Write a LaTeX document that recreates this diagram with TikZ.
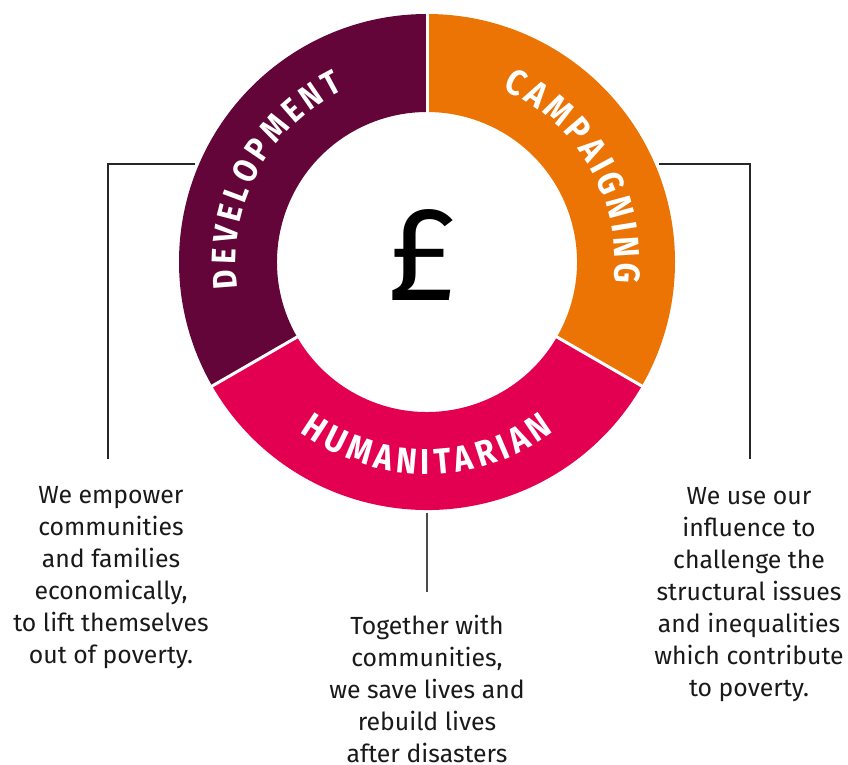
\documentclass[tikz,border=0pt]{standalone}
\usepackage{fontspec}
\setmainfont{Fira Sans}
\newfontfamily\ringfont[FakeStretch=0.87]{Fira Sans}
\usetikzlibrary{decorations.text,calc}
\definecolor{devcol}{HTML}{630538}
\definecolor{camcol}{HTML}{EC7404}
\definecolor{humcol}{HTML}{E40050}
\tikzset{
  blurb/.style={align=center, inner sep=0pt, anchor=north,
    font=\fontsize{24.8}{32}\selectfont, text=black!90},
  leader/.style={draw=black!85, line width=1.1pt},
  divider/.style={draw=white, line width=3pt},
  ringlabel/.style={decorate, decoration={text along path, text align=center,
    text color=white, text={#1}}}
}
\begin{document}
\begin{tikzpicture}[x=1pt,y=1pt]
\useasboundingbox (0,0) rectangle (848,764);
\coordinate (C) at (427,502);
% ring sectors
\fill[devcol] ($(C)+(90:248)$) arc[start angle=90,end angle=210,radius=248pt]
  -- ($(C)+(210:150)$) arc[start angle=210,end angle=90,radius=150pt] -- cycle;
\fill[camcol] ($(C)+(90:248)$) arc[start angle=90,end angle=-30,radius=248pt]
  -- ($(C)+(-30:150)$) arc[start angle=-30,end angle=90,radius=150pt] -- cycle;
\fill[humcol] ($(C)+(210:248)$) arc[start angle=210,end angle=330,radius=248pt]
  -- ($(C)+(330:150)$) arc[start angle=330,end angle=210,radius=150pt] -- cycle;
% white gaps between sectors
\foreach \a in {90,210,330}
  \draw[divider] ($(C)+(\a:146)$) -- ($(C)+(\a:252)$);
% curved sector labels (letter-spaced with explicit kerns)
\path[ringlabel={|\ringfont\bfseries\fontsize{34}{34}\selectfont|{D\kern4.5pt}{E\kern4.5pt}{V\kern4.5pt}{E\kern4.5pt}{L\kern4.5pt}{O\kern4.5pt}{P\kern4.5pt}{M\kern4.5pt}{E\kern4.5pt}{N\kern4.5pt}T}]
  ($(C)+(212:191)$) arc[start angle=212,end angle=92,radius=191pt];
\path[ringlabel={|\ringfont\bfseries\fontsize{36}{36}\selectfont|{C\kern4pt}{A\kern4pt}{M\kern4pt}{P\kern4pt}{A\kern4pt}{I\kern4pt}{G\kern4pt}{N\kern4pt}{I\kern4pt}{N\kern4pt}G}]
  ($(C)+(90:188)$) arc[start angle=90,end angle=-30,radius=188pt];
\path[ringlabel={|\ringfont\bfseries\fontsize{36}{36}\selectfont|{H\kern5pt}{U\kern5pt}{M\kern5pt}{A\kern5pt}{N\kern5pt}{I\kern5pt}{T\kern5pt}{A\kern5pt}{R\kern5pt}{I\kern5pt}{A\kern5pt}N}]
  ($(C)+(210:212)$) arc[start angle=210,end angle=330,radius=212pt];
% centre symbol
\node[font=\fontsize{134}{134}\selectfont, inner sep=0pt] (pound) at (422,509) {£};
% descriptions
\node[blurb] (devtxt) at (111,278) {We empower\\communities\\and families\\economically,\\to lift themselves\\out of poverty.};
\node[blurb] (humtxt) at (427,149) {Together with\\communities,\\we save lives and\\rebuild lives\\after disasters};
\node[blurb] (camtxt) at (749,277) {We use our\\influence to\\challenge the\\structural issues\\and inequalities\\which contribute\\to poverty.};
% leader lines
\coordinate (devA) at (195,600);
\coordinate (devB) at (108,305);
\coordinate (camA) at (659,600);
\coordinate (camB) at (750,305);
\coordinate (humA) at (427,251);
\coordinate (humB) at (427,172);
\draw[leader] (devA) -| (devB);
\draw[leader] (camA) -| (camB);
\draw[leader, draw=black!70] (humA) -- (humB);
\end{tikzpicture}
\end{document}
